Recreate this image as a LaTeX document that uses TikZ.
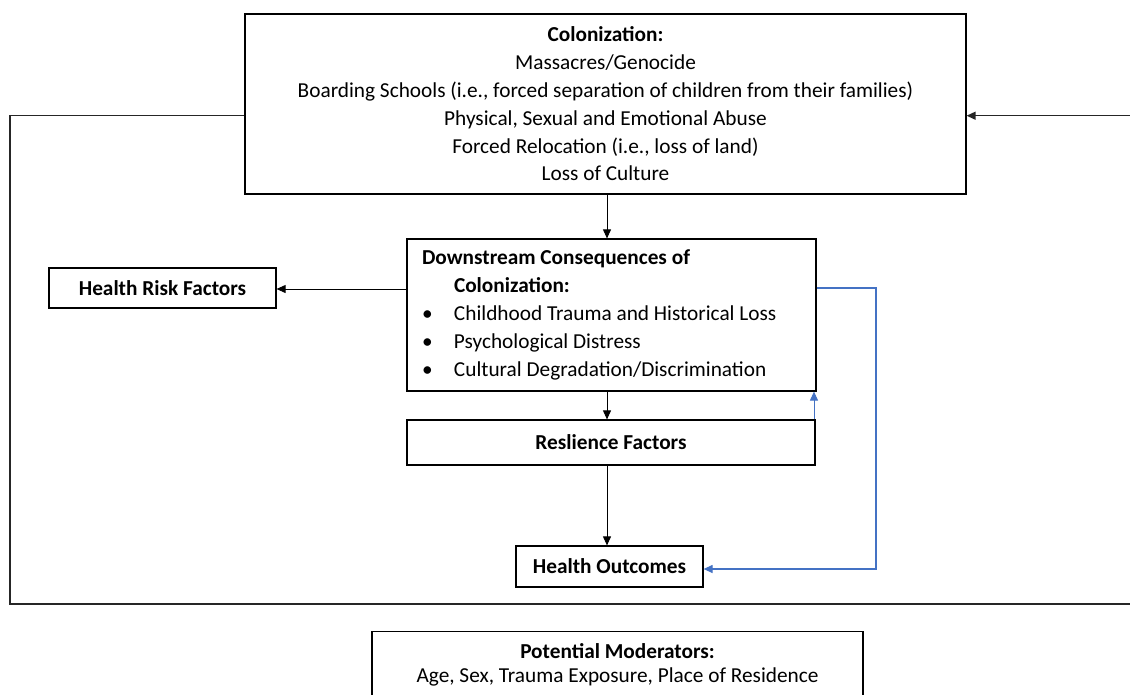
\documentclass[tikz,border=0pt]{standalone}
\usepackage{fontspec}
\setmainfont{Carlito}
\usetikzlibrary{arrows.meta,calc}
\definecolor{wordblue}{HTML}{4472C4}
\begin{document}
\begin{tikzpicture}[x=1pt,y=-1pt,
  box/.style={draw=black,line width=1.2pt,rectangle,inner sep=0pt,align=center,font=\fontsize{21.3}{27.8}\selectfont},
  txt/.style={inner sep=0pt,align=center,font=\fontsize{21.3}{24}\selectfont},
  conn/.style={line width=0.9pt,-{Triangle[length=9pt,width=8pt]}},
  bconn/.style={line width=1.2pt,draw=wordblue,-{Triangle[length=9pt,width=8pt]},wordblue},
  frame/.style={line width=1.3pt,draw=black!85}]
\useasboundingbox (0,0) rectangle (1130,694);
\clip (0,0) rectangle (1130,694);

\node[box,minimum width=721pt,minimum height=180pt] (top) at (605.5,104)
  {\textbf{Colonization:}\\Massacres/Genocide\\Boarding Schools (i.e., forced separation of children from their families)\\Physical, Sexual and Emotional Abuse\\Forced Relocation (i.e., loss of land)\\Loss of Culture};

\node[box,minimum width=409pt,minimum height=152pt,align=left] (down) at (611.5,315)
  {\makebox[405pt][l]{\hspace*{13pt}\textbf{Downstream Consequences of}}\\
   \makebox[405pt][l]{\hspace*{45pt}\textbf{Colonization:}}\\
   \makebox[405pt][l]{\hspace*{13pt}\makebox[32pt][l]{\textbullet}Childhood Trauma and Historical Loss}\\
   \makebox[405pt][l]{\hspace*{13pt}\makebox[32pt][l]{\textbullet}Psychological Distress}\\
   \makebox[405pt][l]{\hspace*{13pt}\makebox[32pt][l]{\textbullet}Cultural Degradation/Discrimination}};

\node[box,minimum width=227pt,minimum height=40pt] (hrf) at (162.5,288) {\textbf{Health Risk Factors}};
\node[box,minimum width=408pt,minimum height=45pt] (res) at (611,442.5) {\textbf{Reslience Factors}};
\node[box,minimum width=187pt,minimum height=41pt] (ho) at (609.5,566.5) {\textbf{Health Outcomes}};
\node[box,minimum width=491pt,minimum height=90pt,anchor=north] (mod) at (617.5,631) {};
\node[txt] (modtext) at (617.5,665) {\textbf{Potential Moderators:}\\Age, Sex, Trauma Exposure, Place of Residence};

\coordinate (ax) at (607,0);
\coordinate (fl) at (10,115.7);
\coordinate (fbl) at (10,604);
\coordinate (fbr) at (1131,604);
\coordinate (fr) at (1131,115.7);
\coordinate (hy) at (0,289);
\coordinate (by) at (876,288);
\coordinate (hoy) at (0,569);
\coordinate (bx) at (814,0);

\draw[conn] (top.south -| ax) -- (down.north -| ax);
\draw[conn] (down.south -| ax) -- (res.north -| ax);
\draw[conn] (res.south -| ax) -- (ho.north -| ax);
\draw[conn] (down.west |- hy) -- (hrf.east |- hy);

\draw[frame] (top.west |- fl) -- (fl) -- (fbl) -- (fbr);
\draw[frame,conn,line width=1.3pt] (fr) -- (top.east |- fr);

\draw[bconn] (down.east |- by) -- (by) -- (by |- hoy) -- (ho.east |- hoy);
\draw[bconn,line width=1pt] (res.north -| bx) -- (down.south -| bx);
\end{tikzpicture}
\end{document}
